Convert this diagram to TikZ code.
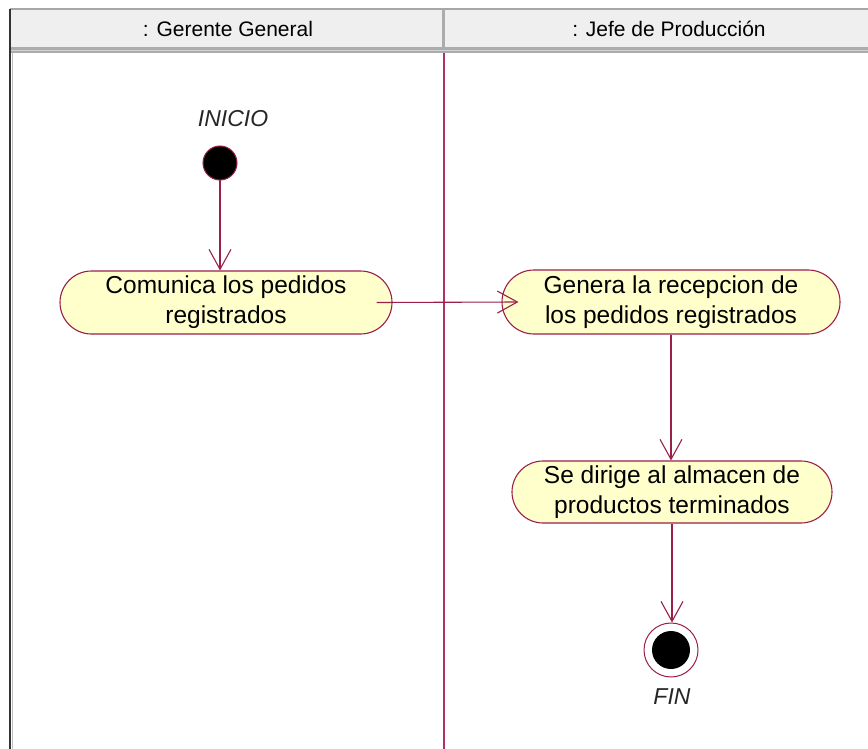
\documentclass[tikz,border=0pt]{standalone}
\usepackage{fontspec}
\setmainfont{Liberation Sans}
\usetikzlibrary{arrows.meta,shapes.misc}
\definecolor{umlline}{HTML}{9A1F4A}
\definecolor{umlfill}{HTML}{FFFFCC}
\definecolor{lanecol}{HTML}{B0306A}
\definecolor{hdrbg}{HTML}{EFEFEF}
\tikzset{
  activity/.style={rounded rectangle, draw=umlline, fill=umlfill, line width=1.1pt,
    inner sep=0pt, align=center, font=\fontsize{24.5}{30}\selectfont},
  flow/.style={draw=umlline, line width=1.1pt, -{Straight Barb[length=20pt,width=22pt,line width=1.1pt]}},
  hdrtext/.style={font=\fontsize{21}{24}\selectfont, text=black},
  statelabel/.style={font=\fontsize{23}{27}\selectfont\itshape, text=black!85}
}
\begin{document}
\begin{tikzpicture}[x=1pt,y=-1pt]
\useasboundingbox (0,0) rectangle (868,749);
\fill[white] (0,0) rectangle (868,749);
% header
\fill[hdrbg] (10,9) rectangle (868,47);
\draw[gray!70, line width=1.2pt] (10,9) -- (868,9);
\fill[gray!65] (10,47) rectangle (868,53);
\draw[gray!35, line width=0.8pt] (10,50) -- (868,50);
\fill[gray!65] (441.5,9) rectangle (445,47);
\draw[black!80, line width=1.3pt] (10,9) -- (10,749);
\draw[gray!50, line width=0.8pt] (12.5,53) -- (12.5,749);
\node[hdrtext] (h1) at (228,29) {: Gerente General};
\node[hdrtext] (h2) at (669,29) {: Jefe de Producción};
% swimlane divider
\draw[lanecol, line width=2pt] (443.5,53) -- (443.5,749);
% start
\node[statelabel] (lstart) at (233,119) {INICIO};
\node[circle, fill=black, draw=umlline, line width=1pt, minimum size=34pt, inner sep=0pt] (start) at (220,163) {};
% activities
\node[activity, minimum width=332pt, minimum height=63pt] (a1) at (226,302.5) {Comunica los pedidos\\registrados};
\node[activity, minimum width=338pt, minimum height=64pt] (a2) at (671,302) {Genera la recepcion de\\los pedidos registrados};
\node[activity, minimum width=320pt, minimum height=62pt] (a3) at (672,492) {Se dirige al almacen de\\productos terminados};
% end
\node[circle, draw=umlline, fill=white, line width=1pt, minimum size=54pt, inner sep=0pt] (end) at (671,650) {};
\node[circle, fill=black, minimum size=38pt, inner sep=0pt] (endin) at (end.center) {};
\node[statelabel] (lend) at (672,697) {FIN};
% flows
\draw[flow] (start) -- (start |- a1.north);
\draw[flow] ([xshift=-16pt]a1.east) -- ([xshift=17pt]a2.west);
\draw[flow] (a2.south) -- (a2.south |- a3.north);
\draw[flow] (a3.south |- a3.south) -- (a3.south |- end.north);
\end{tikzpicture}
\end{document}
